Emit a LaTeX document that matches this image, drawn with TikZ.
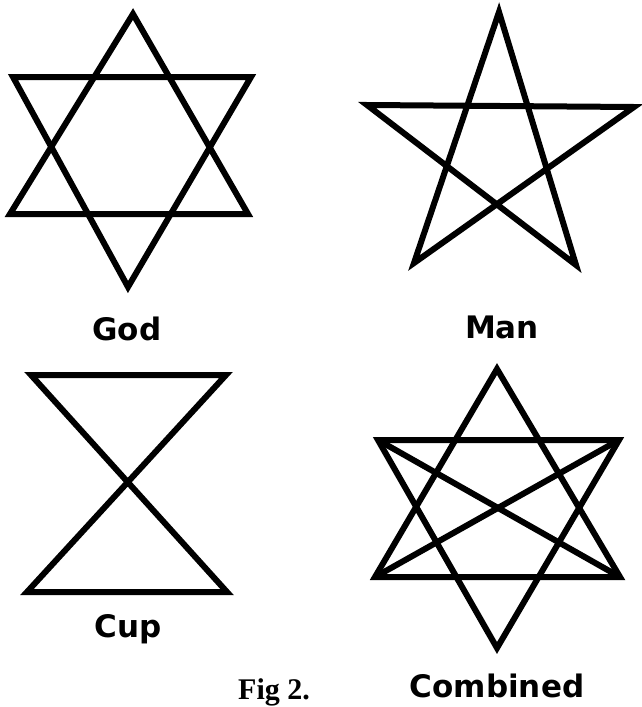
\documentclass[tikz,border=0pt]{standalone}
\usepackage{fontspec}
\newfontfamily\lblfont{DejaVu Sans}
\newfontfamily\figfont{Liberation Serif}

\begin{document}
\begin{tikzpicture}[x=1pt, y=-1pt,
    figline/.style={line width=6pt, line join=miter, miter limit=4, black},
    lbl/.style={anchor=base, inner sep=0pt, font=\lblfont\fontsize{31}{33}\selectfont\bfseries}
]
\useasboundingbox (0,0) rectangle (641,707);

% God
\coordinate (gA) at (133,14);
\coordinate (gB) at (10,214);
\coordinate (gC) at (248,214);
\coordinate (gD) at (13,77);
\coordinate (gE) at (251,77);
\coordinate (gF) at (128,287);
\draw[figline] (gA) -- (gB) -- (gC) -- cycle;
\draw[figline] (gD) -- (gE) -- (gF) -- cycle;
\node[lbl] (god) at (127,340) {God};

% Man
\coordinate (mT) at (499,12);
\coordinate (mL) at (367,105);
\coordinate (mR) at (634,107);
\coordinate (mBL) at (414,263);
\coordinate (mBR) at (576,265);
\draw[figline] (mT) -- (mBR) -- (mL) -- (mR) -- (mBL) -- cycle;
\node[lbl] (man) at (502,338) {Man};

% Cup
\coordinate (cTL) at (31,375);
\coordinate (cTR) at (226,375);
\coordinate (cBL) at (27,592);
\coordinate (cBR) at (227,592);
\draw[figline] (cTL) -- (cTR) -- (cBL) -- (cBR) -- cycle;
\node[lbl] (cup) at (128,637) {Cup};

% Combined
\coordinate (kA) at (497,369);
\coordinate (kB) at (375,577);
\coordinate (kC) at (620,577);
\coordinate (kD) at (378,440);
\coordinate (kE) at (619,440);
\coordinate (kF) at (497,648);
\draw[figline] (kA) -- (kB) -- (kC) -- cycle;
\draw[figline] (kD) -- (kE) -- (kF) -- cycle;
\draw[figline] (kD) -- (kC);
\draw[figline] (kE) -- (kB);
\node[lbl] (combined) at (497,697) {Combined};

\node[anchor=base west, inner sep=0pt, font=\figfont\fontsize{30}{32}\selectfont\bfseries] (fig) at (238,699) {Fig 2.};
\end{tikzpicture}
\end{document}
